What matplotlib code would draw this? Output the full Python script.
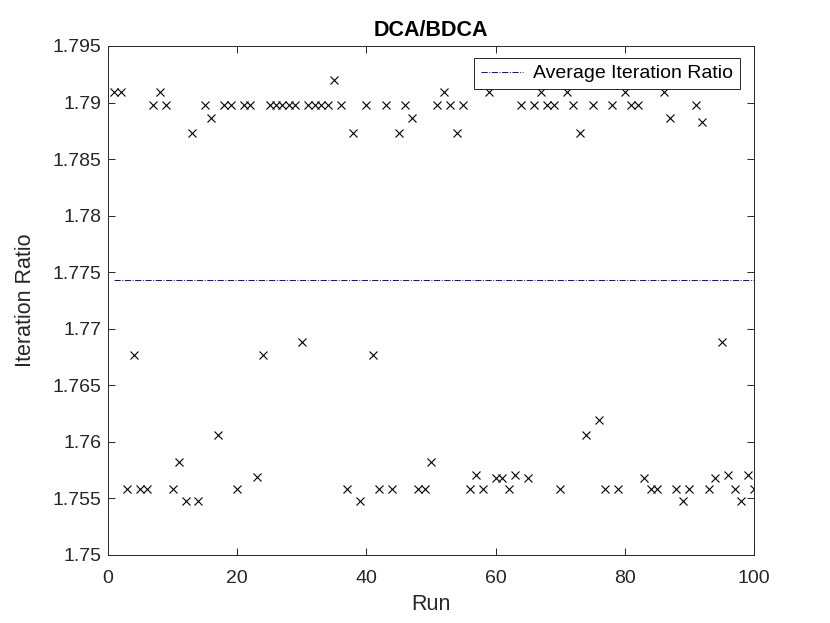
import numpy as np
import matplotlib
matplotlib.use('Agg')
import matplotlib.pyplot as plt
from matplotlib.ticker import FuncFormatter

plt.rcParams['font.family'] = ['Liberation Sans', 'DejaVu Sans']

# iteration ratio DCA/BDCA per run
runs = np.arange(1, 101)
ratio = [
    1.7909, 1.7909, 1.7558, 1.7677, 1.7558, 1.7558, 1.7898, 1.7909, 1.7898, 1.7558,
    1.7582, 1.7548, 1.7873, 1.7548, 1.7898, 1.7886, 1.7606, 1.7898, 1.7898, 1.7558,
    1.7898, 1.7898, 1.7569, 1.7677, 1.7898, 1.7898, 1.7898, 1.7898, 1.7898, 1.7688,
    1.7898, 1.7898, 1.7898, 1.7898, 1.7920, 1.7898, 1.7558, 1.7873, 1.7548, 1.7898,
    1.7677, 1.7558, 1.7898, 1.7558, 1.7873, 1.7898, 1.7886, 1.7558, 1.7558, 1.7582,
    1.7898, 1.7909, 1.7898, 1.7873, 1.7898, 1.7558, 1.7571, 1.7558, 1.7909, 1.7568,
    1.7568, 1.7558, 1.7571, 1.7898, 1.7568, 1.7898, 1.7909, 1.7898, 1.7898, 1.7558,
    1.7909, 1.7898, 1.7873, 1.7606, 1.7898, 1.7619, 1.7558, 1.7898, 1.7558, 1.7909,
    1.7898, 1.7898, 1.7568, 1.7558, 1.7558, 1.7909, 1.7886, 1.7558, 1.7548, 1.7558,
    1.7898, 1.7883, 1.7558, 1.7568, 1.7688, 1.7571, 1.7558, 1.7548, 1.7571, 1.7558,
]
avg_ratio = np.mean(ratio)

x_ticks = [0, 20, 40, 60, 80, 100]
y_ticks = [1.75, 1.755, 1.76, 1.765, 1.77, 1.775, 1.78, 1.785, 1.79, 1.795]

axcol = '#262626'
fig = plt.figure(figsize=(8.3, 6.23), dpi=100)
ax = fig.add_axes([108 / 830, 68 / 623, 646 / 830, 509 / 623])

ax.plot(runs, ratio, 'x', color='black', markersize=5.5, markeredgewidth=0.8, linestyle='none')
ax.plot([runs[0], runs[-1]], [avg_ratio, avg_ratio], color='blue', linestyle='-.',
        linewidth=0.7, label='Average Iteration Ratio')

ax.set_xlim(0, 100)
ax.set_ylim(1.75, 1.795)
ax.set_xticks(x_ticks)
ax.set_yticks(y_ticks)
ax.yaxis.set_major_formatter(FuncFormatter(lambda v, p: '%g' % round(v, 4)))
ax.tick_params(direction='in', length=5, width=0.7, colors=axcol, labelsize=14,
               top=True, right=True)
ax.tick_params(axis='x', pad=11)
ax.tick_params(axis='y', pad=5)
for s in ax.spines.values():
    s.set_color(axcol)
    s.set_linewidth(0.7)

ax.set_title('DCA/BDCA', fontsize=15.5, fontweight='bold', color='black', pad=7)
ax.set_xlabel('Run', fontsize=15.5, color=axcol, labelpad=5)
ax.set_ylabel('Iteration Ratio', fontsize=15.5, color=axcol, labelpad=12)

leg = ax.legend(loc='upper right', bbox_to_anchor=(740 / 830, 1 - 58 / 623),
                bbox_transform=fig.transFigure, borderaxespad=0,
                fontsize=14, fancybox=False, framealpha=1,
                handlelength=2.2, borderpad=0.35, handletextpad=0.5)
leg.get_frame().set_edgecolor(axcol)
leg.get_frame().set_linewidth(0.7)

fig.savefig('out.png', dpi=100)
